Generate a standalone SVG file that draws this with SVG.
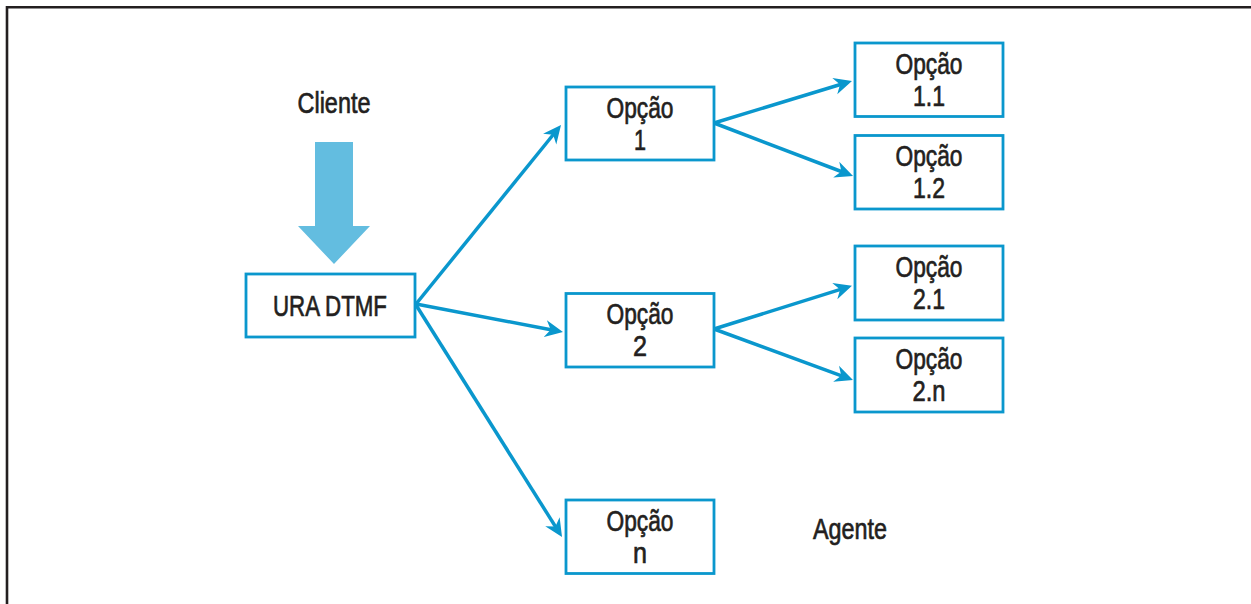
<svg xmlns="http://www.w3.org/2000/svg" width="1251" height="604" viewBox="0 0 1251 604">
  <style>
    .bg { fill: #ffffff; }
    .frame { fill: none; stroke: #231f20; stroke-width: 2.6; }
    .box { fill: #ffffff; stroke: #0a97cd; stroke-width: 2.8; }
    .link { fill: none; stroke: #0a97cd; stroke-width: 3.5; }
    .label { font-family: "Liberation Sans", Arial, sans-serif; font-size: 30px; fill: #231f20; stroke: #231f20; stroke-width: 0.7; text-anchor: middle; }
    .input { fill: #63bde0; }
  </style>
  <defs>
    <marker id="head" viewBox="0 -9 19 18" refX="11" refY="0" markerWidth="19" markerHeight="18" markerUnits="userSpaceOnUse" orient="auto">
      <path d="M18,0 L0,-8.5 L5.5,0 L0,8.5 Z" fill="#0a97cd"/>
    </marker>
  </defs>

  <rect class="bg" x="0" y="0" width="1251" height="604"/>
  <path class="frame" d="M7,604 V7.3 H1251"/>

  <!-- incoming caller -->
  <g id="cliente">
    <text class="label" x="334" y="112.5" textLength="73" lengthAdjust="spacingAndGlyphs">Cliente</text>
    <polygon class="input" points="315,142 353,142 353,226 370,226 334,264 298,226 315,226"/>
  </g>

  <!-- connectors -->
  <g id="connectors">
    <line class="link" x1="416" y1="304" x2="556.6" y2="130.5" marker-end="url(#head)"/>
    <line class="link" x1="416" y1="304" x2="556.1" y2="330.7" marker-end="url(#head)"/>
    <line class="link" x1="416" y1="305" x2="558.3" y2="531.1" marker-end="url(#head)"/>
    <line class="link" x1="714" y1="123" x2="845.3" y2="83.0" marker-end="url(#head)"/>
    <line class="link" x1="714" y1="123" x2="846.5" y2="173.5" marker-end="url(#head)"/>
    <line class="link" x1="714" y1="329" x2="845.3" y2="287.9" marker-end="url(#head)"/>
    <line class="link" x1="714" y1="329" x2="846.4" y2="377.6" marker-end="url(#head)"/>
  </g>

  <g id="ura">
    <rect class="box" x="246" y="274" width="169" height="63"/>
    <text class="label" x="330" y="315.5" textLength="114" lengthAdjust="spacingAndGlyphs">URA DTMF</text>
  </g>

  <g id="opcao-1">
    <rect class="box" x="566" y="87" width="148" height="73"/>
    <text class="label" x="640" y="118.3" textLength="67" lengthAdjust="spacingAndGlyphs">Opção</text>
    <text class="label" x="640" y="150" textLength="12" lengthAdjust="spacingAndGlyphs">1</text>
  </g>

  <g id="opcao-2">
    <rect class="box" x="566" y="293.5" width="148" height="73.5"/>
    <text class="label" x="640" y="324.3" textLength="67" lengthAdjust="spacingAndGlyphs">Opção</text>
    <text class="label" x="640" y="356" textLength="14" lengthAdjust="spacingAndGlyphs">2</text>
  </g>

  <g id="opcao-n">
    <rect class="box" x="566" y="500" width="148" height="73.5"/>
    <text class="label" x="640" y="531.3" textLength="67" lengthAdjust="spacingAndGlyphs">Opção</text>
    <text class="label" x="640" y="562.7" textLength="14" lengthAdjust="spacingAndGlyphs">n</text>
  </g>

  <g id="opcao-1-1">
    <rect class="box" x="855" y="43" width="148" height="73.5"/>
    <text class="label" x="929" y="74" textLength="67" lengthAdjust="spacingAndGlyphs">Opção</text>
    <text class="label" x="929" y="106" textLength="32" lengthAdjust="spacingAndGlyphs">1.1</text>
  </g>

  <g id="opcao-1-2">
    <rect class="box" x="855" y="135.5" width="148" height="73.5"/>
    <text class="label" x="929" y="166" textLength="67" lengthAdjust="spacingAndGlyphs">Opção</text>
    <text class="label" x="929" y="198" textLength="32" lengthAdjust="spacingAndGlyphs">1.2</text>
  </g>

  <g id="opcao-2-1">
    <rect class="box" x="855" y="246" width="148" height="74"/>
    <text class="label" x="929" y="277" textLength="67" lengthAdjust="spacingAndGlyphs">Opção</text>
    <text class="label" x="929" y="309" textLength="32" lengthAdjust="spacingAndGlyphs">2.1</text>
  </g>

  <g id="opcao-2-n">
    <rect class="box" x="855" y="338" width="148" height="74"/>
    <text class="label" x="929" y="369" textLength="67" lengthAdjust="spacingAndGlyphs">Opção</text>
    <text class="label" x="929" y="401" textLength="33" lengthAdjust="spacingAndGlyphs">2.n</text>
  </g>

  <g id="agente">
    <text class="label" x="850" y="539" textLength="74" lengthAdjust="spacingAndGlyphs">Agente</text>
  </g>
</svg>
